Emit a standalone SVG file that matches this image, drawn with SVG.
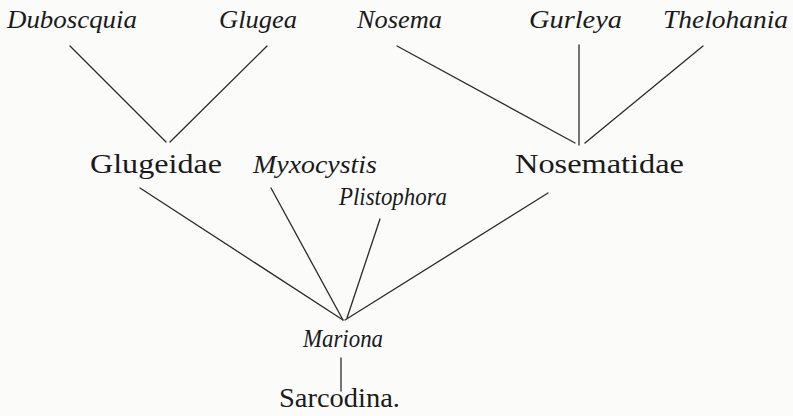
<svg xmlns="http://www.w3.org/2000/svg" width="793" height="416" viewBox="0 0 793 416" font-family="Liberation Serif, serif">
  <style>
    text { fill: #1a1a1a; }
    .rm { font-size: 27px; }
    .it { font-size: 26px; font-style: italic; }
    .edge { stroke: #2a2a2a; stroke-width: 1.3; fill: none; stroke-linecap: round; }
  </style>
  <rect width="793" height="416" fill="#fbfbfa"/>

  <g id="connectors">
    <line class="edge" x1="70" y1="46" x2="166" y2="142"/>
    <line class="edge" x1="267" y1="46" x2="170" y2="142"/>
    <line class="edge" x1="397" y1="46" x2="575" y2="143"/>
    <line class="edge" x1="579" y1="45" x2="579" y2="145"/>
    <line class="edge" x1="703" y1="46" x2="585" y2="143"/>
    <line class="edge" x1="140" y1="188" x2="343" y2="320"/>
    <line class="edge" x1="271" y1="188" x2="343" y2="320"/>
    <line class="edge" x1="380" y1="219" x2="347" y2="318"/>
    <line class="edge" x1="548" y1="193" x2="345" y2="320"/>
    <line class="edge" x1="341" y1="358" x2="341" y2="391"/>
  </g>

  <g id="duboscquia"><text class="it" font-family="Liberation Serif" x="7" y="28" textLength="130" lengthAdjust="spacingAndGlyphs">Duboscquia</text></g>
  <g id="glugea"><text class="it" font-family="Liberation Serif" x="219" y="28" textLength="78" lengthAdjust="spacingAndGlyphs">Glugea</text></g>
  <g id="nosema"><text class="it" font-family="Liberation Serif" x="357" y="28" textLength="85" lengthAdjust="spacingAndGlyphs">Nosema</text></g>
  <g id="gurleya"><text class="it" font-family="Liberation Serif" x="529" y="28" textLength="93" lengthAdjust="spacingAndGlyphs">Gurleya</text></g>
  <g id="thelohania"><text class="it" font-family="Liberation Serif" x="663" y="28" textLength="125" lengthAdjust="spacingAndGlyphs">Thelohania</text></g>

  <g id="glugeidae"><text class="rm" font-family="Liberation Serif" x="90" y="173" textLength="132" lengthAdjust="spacingAndGlyphs">Glugeidae</text></g>
  <g id="myxocystis"><text class="it" font-family="Liberation Serif" x="253" y="173" textLength="124" lengthAdjust="spacingAndGlyphs">Myxocystis</text></g>
  <g id="nosematidae"><text class="rm" font-family="Liberation Serif" x="515" y="173" textLength="169" lengthAdjust="spacingAndGlyphs">Nosematidae</text></g>
  <g id="plistophora"><text class="it" font-family="Liberation Serif" x="339" y="205" textLength="108" lengthAdjust="spacingAndGlyphs">Plistophora</text></g>

  <g id="mariona"><text class="it" font-family="Liberation Serif" x="303" y="347" textLength="80" lengthAdjust="spacingAndGlyphs">Mariona</text></g>
  <g id="sarcodina"><text class="rm" font-family="Liberation Serif" x="279" y="407" textLength="121" lengthAdjust="spacingAndGlyphs">Sarcodina.</text></g>
</svg>
